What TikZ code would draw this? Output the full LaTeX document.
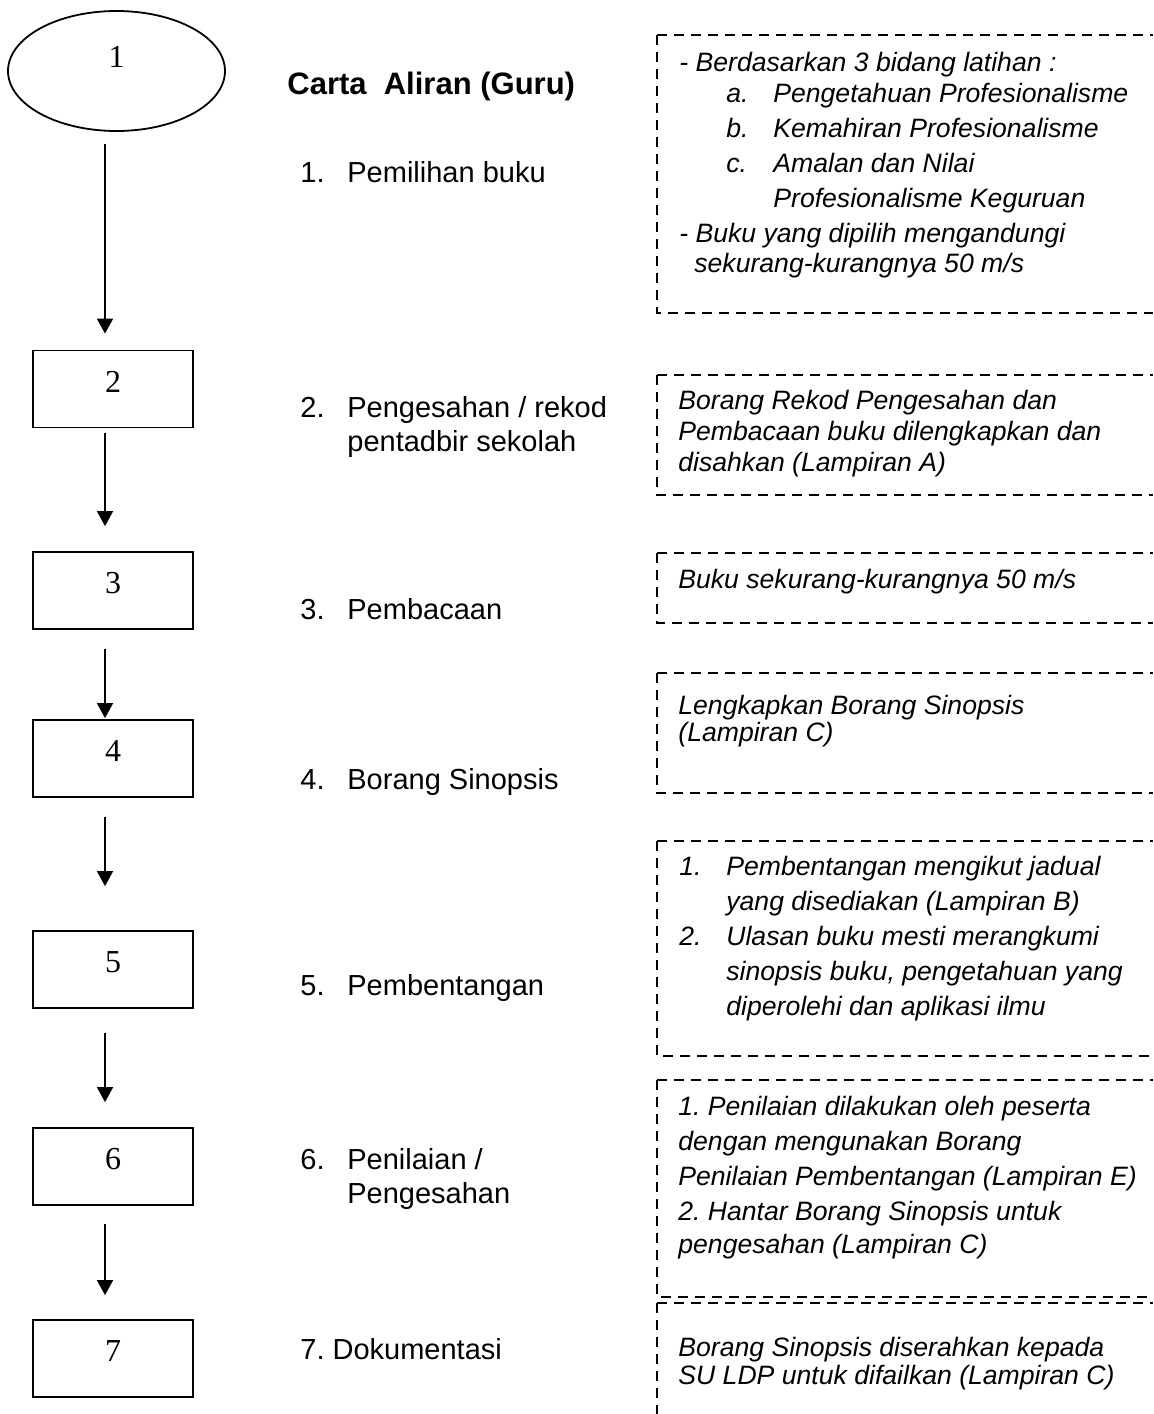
\documentclass[tikz,border=0pt]{standalone}
\usepackage{fontspec}
\setmainfont{Liberation Sans}
\newfontfamily\numfont{Liberation Serif}
\usetikzlibrary{arrows.meta,shapes.geometric}
\frenchspacing

\newcommand{\tabmark}[1]{\makebox[23.5pt][l]{#1}}
\newcommand{\noteframe}[2]{%
  \draw[noteline] (657,#1) -- (1153,#1);
  \draw[noteline] (657,#1) -- (657,#2) -- (1153,#2);}

\tikzset{
  flow/.style={-{Triangle[width=8pt,length=7.5pt]}, line width=0.9pt},
  startoval/.style={draw, ellipse, line width=0.9pt, minimum width=108.5pt,
    minimum height=60pt, inner sep=0pt, text height=0pt, text depth=4pt,
    font=\numfont\fontsize{16}{18}\selectfont},
  stepbox/.style={draw, line width=0.9pt, minimum width=80pt,
    minimum height=38.5pt, inner sep=0pt, text height=3pt, text depth=0pt,
    font=\numfont\fontsize{16}{18}\selectfont},
  steplabel/.style={anchor=base west, inner sep=0pt, align=left,
    font=\fontsize{14.5}{17}\selectfont},
  notetext/.style={anchor=base west, inner sep=0pt, align=left,
    font=\itshape\fontsize{13.3}{17.5}\selectfont},
  noteline/.style={line width=1.2pt, dash pattern=on 5pt off 3.5pt},
}

\begin{document}
\begin{tikzpicture}[x=0.5pt,y=-0.5pt]
  \useasboundingbox (0,0) rectangle (1153,1414);

  % flow column
  \node[startoval] (s1) at (116.5,71) {1};
  \node[stepbox] (s2) at (113,389) {2};
  \node[stepbox] (s3) at (113,590.5) {3};
  \node[stepbox] (s4) at (113,758.5) {4};
  \node[stepbox] (s5) at (113,969.5) {5};
  \node[stepbox] (s6) at (113,1166.5) {6};
  \node[stepbox] (s7) at (113,1358.5) {7};

  \draw[flow, shorten <=6pt, shorten >=8pt] ([xshift=-5.75pt]s1.south) -- ([xshift=-4pt]s2.north);
  \draw[flow, shorten <=2.5pt, shorten >=12.5pt] ([xshift=-4pt]s2.south) -- ([xshift=-4pt]s3.north);
  \draw[flow, shorten <=9.5pt, shorten >=0.5pt] ([xshift=-4pt]s3.south) -- ([xshift=-4pt]s4.north);
  \draw[flow, shorten <=9.5pt, shorten >=22pt] ([xshift=-4pt]s4.south) -- ([xshift=-4pt]s5.north);
  \draw[flow, shorten <=12pt, shorten >=12.5pt] ([xshift=-4pt]s5.south) -- ([xshift=-4pt]s6.north);
  \draw[flow, shorten <=9pt, shorten >=12pt] ([xshift=-4pt]s6.south) -- ([xshift=-4pt]s7.north);

  % step names (base = last line)
  \node[steplabel, font=\bfseries\fontsize{15.5}{18}\selectfont] (title) at (287,94) {Carta\ \ Aliran (Guru)};
  \node[steplabel] (l1) at (300,182) {\tabmark{1.}Pemilihan buku};
  \node[steplabel] (l2) at (300,451) {\tabmark{2.}Pengesahan / rekod\\\hspace*{23.5pt}pentadbir sekolah};
  \node[steplabel] (l3) at (300,619) {\tabmark{3.}Pembacaan};
  \node[steplabel] (l4) at (300,789) {\tabmark{4.}Borang Sinopsis};
  \node[steplabel] (l5) at (300,995) {\tabmark{5.}Pembentangan};
  \node[steplabel] (l6) at (300,1203) {\tabmark{6.}Penilaian /\\\hspace*{23.5pt}Pengesahan};
  \node[steplabel] (l7) at (300,1359) {7. Dokumentasi};

  % notes
  \noteframe{35}{313}
  \node[notetext] (n1) at (679,272) {- Berdasarkan 3 bidang latihan :\\[-2pt]
    \hspace*{23.5pt}\tabmark{a.}Pengetahuan Profesionalisme\\
    \hspace*{23.5pt}\tabmark{b.}Kemahiran Profesionalisme\\
    \hspace*{23.5pt}\tabmark{c.}Amalan dan Nilai\\
    \hspace*{47pt}Profesionalisme Keguruan\\
    - Buku yang dipilih mengandungi\\[-2.5pt]
    \hspace*{7.5pt}sekurang-kurangnya 50 m/s};

  \noteframe{375}{495}
  \node[notetext, font=\itshape\fontsize{13.3}{15.3}\selectfont] (n2) at (678,471)
    {Borang Rekod Pengesahan dan\\Pembacaan buku dilengkapkan dan\\disahkan (Lampiran A)};

  \noteframe{553}{623}
  \node[notetext] (n3) at (678,588) {Buku sekurang-kurangnya 50 m/s};

  \noteframe{673}{793}
  \node[notetext, font=\itshape\fontsize{13.3}{13.5}\selectfont] (n4) at (678,741)
    {Lengkapkan Borang Sinopsis\\(Lampiran C)};

  \noteframe{841}{1056}
  \node[notetext] (n5) at (679,1015) {\tabmark{1.}Pembentangan mengikut jadual\\
    \hspace*{23.5pt}yang disediakan (Lampiran B)\\
    \tabmark{2.}Ulasan buku mesti merangkumi\\
    \hspace*{23.5pt}sinopsis buku, pengetahuan yang\\
    \hspace*{23.5pt}diperolehi dan aplikasi ilmu};

  \noteframe{1080}{1297}
  \node[notetext] (n6) at (678,1253) {1. Penilaian dilakukan oleh peserta\\
    dengan mengunakan Borang\\
    Penilaian Pembentangan (Lampiran E)\\
    2. Hantar Borang Sinopsis untuk\\[-1pt]
    pengesahan (Lampiran C)};

  \draw[noteline] (657,1303) -- (1153,1303);
  \draw[noteline] (657,1303) -- (657,1414);
  \node[notetext, font=\itshape\fontsize{13.3}{14}\selectfont] (n7) at (678,1384)
    {Borang Sinopsis diserahkan kepada\\SU LDP untuk difailkan (Lampiran C)};
\end{tikzpicture}
\end{document}
